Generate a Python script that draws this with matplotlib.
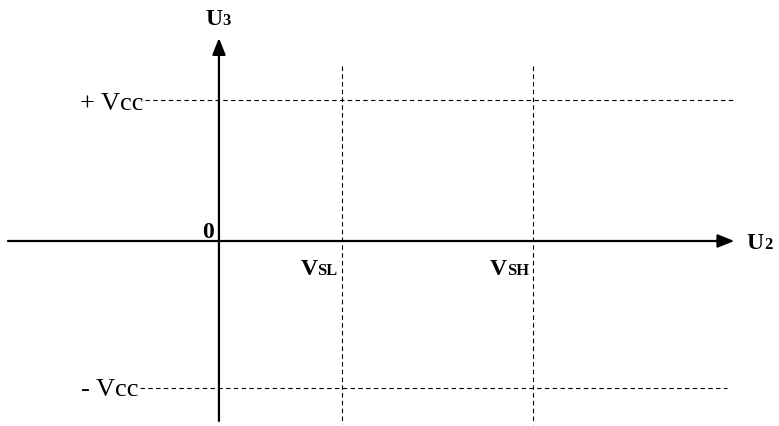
import matplotlib.pyplot as plt

# Transfer characteristic sketch of a Schmitt trigger (U3 vs U2)
v_sl = 1.0          # lower switching threshold
v_sh = 2.55         # upper switching threshold
vcc_levels = [0.98, -1.02]
vcc_labels = ['+ Vcc', '- Vcc']

plt.rcParams['font.family'] = ['Liberation Serif', 'DejaVu Serif']

fig = plt.figure(figsize=(7.79, 4.27), dpi=100)
ax = fig.add_axes([0, 0, 1, 1])
ax.set_xlim(-1.78, 4.553)
ax.set_ylim(-1.285, 1.681)
ax.axis('off')

# axes with arrows
arrow_style = dict(arrowstyle='-|>,head_length=1.0,head_width=0.4', lw=1.6, color='black',
                   shrinkA=0, shrinkB=0)
ax.annotate('', xy=(4.19, 0), xytext=(-1.715, 0), arrowprops=arrow_style)
ax.annotate('', xy=(0, 1.41), xytext=(0, -1.25), arrowprops=arrow_style)

# dashed guide lines
dash = dict(color='black', lw=0.8, dashes=(4, 3))
ax.plot([-0.60, 4.18], [vcc_levels[0]] * 2, **dash)
ax.plot([-0.64, 4.13], [vcc_levels[1]] * 2, **dash)
for xv in [v_sl, v_sh]:
    ax.plot([xv, xv], [1.215, -1.27], **dash)

# labels
fs = 19
ax.text(-0.61, vcc_levels[0] - 0.06, vcc_labels[0], ha='right', va='baseline', fontsize=fs)
ax.text(-0.65, vcc_levels[1] - 0.05, vcc_labels[1], ha='right', va='baseline', fontsize=fs)


def sub_label(x, y, main, sub, size=17):
    # main text ends at x, subscript starts at x, both on the same baseline
    ax.text(x, y, main, ha='right', va='baseline', fontsize=size, fontweight='bold')
    ax.text(x, y, sub, ha='left', va='baseline', fontsize=size * 0.7, fontweight='bold')


sub_label(0.03, 1.51, 'U', '3')
sub_label(4.43, -0.05, 'U', '2')
sub_label(v_sl - 0.2, -0.23, 'V', 'SL')
sub_label(v_sh - 0.21, -0.23, 'V', 'SH')
ax.text(-0.04, 0.03, '0', ha='right', va='baseline', fontsize=17, fontweight='bold')

fig.savefig('out.png', dpi=100)
